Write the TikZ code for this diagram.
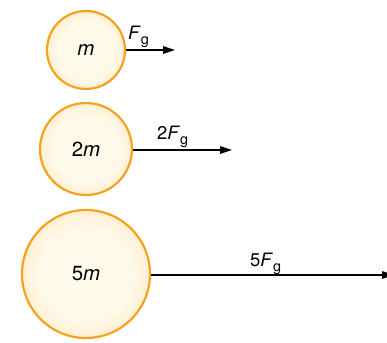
\documentclass[tikz,border=0pt]{standalone}
\usepackage{fontspec}
\setmainfont{TeX Gyre Heros}
\usetikzlibrary{arrows.meta}
\definecolor{ballrim}{HTML}{F7A21E}
\definecolor{ballin}{HTML}{FFF9EA}
\definecolor{ballout}{HTML}{FEE3B4}
\pgfdeclareradialshading{ballshade}{\pgfpoint{0bp}{0bp}}{color(0bp)=(ballin); color(18bp)=(ballin); color(35bp)=(ballout); color(50bp)=(ballout)}
\newcommand{\Fg}{\textit{F}\raisebox{-0.28em}{\fontsize{14.5}{14.5}\selectfont g}}
\tikzset{
  ball/.style={circle, draw=ballrim, line width=2.2bp, shading=ballshade, inner sep=0pt, font=\fontsize{20.5}{20.5}\selectfont},
  force/.style={line width=1.7bp, -{Triangle[length=12bp,width=7.5bp]}},
  flabel/.style={anchor=base west, inner sep=0pt, font=\fontsize{18.5}{18.5}\selectfont}
}
\begin{document}
\begin{tikzpicture}[x=1bp,y=-1bp]
\useasboundingbox (0,0) rectangle (387,343);
\node[ball, minimum size=78bp] (m1) at (86,50) {\textit{m}};
\node[ball, minimum size=92bp] (m2) at (86,149) {2\textit{m}};
\node[ball, minimum size=128bp] (m5) at (86,274) {5\textit{m}};
\coordinate (e1) at (175,50);
\coordinate (e2) at (232,150);
\coordinate (e5) at (394,275);
\draw[force] (m1.east) -- (e1);
\draw[force] (m2.east |- e2) -- (e2);
\draw[force] (m5.east |- e5) -- (e5);
\node[flabel] (l1) at (128,39) {\Fg};
\node[flabel] (l2) at (157,139) {2\Fg};
\node[flabel] (l5) at (250,266) {5\Fg};
\end{tikzpicture}
\end{document}
